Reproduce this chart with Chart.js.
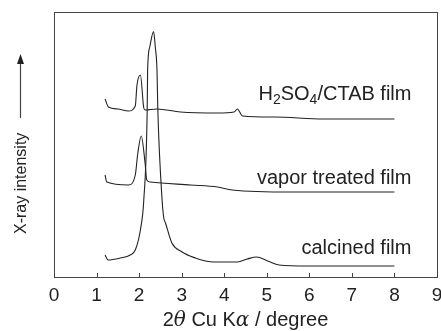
<!DOCTYPE html>
<html>
<head>
<meta charset="utf-8">
<script src="https://cdn.jsdelivr.net/npm/chart.js@4"></script>
<style>
html,body{margin:0;padding:0;background:#fff;}
#c{display:block;}
</style>
</head>
<body>
<canvas id="c" width="441" height="331"></canvas>
<script>
// 2theta values and intensities (arbitrary units)
const ctabX=[1.2,1.28,1.5,1.75,1.91,1.95,2.03,2.11,2.14,2.42,2.97,3.84,4.23,4.31,4.43,5.17,6.34,8.0];
const ctabY=[178,170,168,166,171,192,202,169,167,168,165,164,165,168,161,160,158,158];
const vaporX=[1.2,1.24,1.75,1.91,1.97,2.05,2.14,2.18,2.26,3.21,3.84,4.19,5.57,8.0];
const vaporY=[102,95,92,102,124,141,114,97,95,92,90,87,85,85];
const calcX=[1.2,1.27,1.56,1.79,1.91,2.03,2.11,2.19,2.2,2.25,2.34,2.38,2.42,2.44,2.54,2.58,2.62,2.77,3.01,3.32,3.56,3.76,4.31,4.54,4.76,5.02,5.29,5.96,8.0];
const calcY=[22,17,19,22,27,47,77,167,207,230,245.5,230,207,167,77,59,54,34,25,19,16,15,15,18,20,16,12,11,11];
const seriesNames=["H2SO4/CTAB film","vapor treated film","calcined film"];
const xTicks=[0,1,2,3,4,5,6,7,8,9];

const ink="#222";
const sans="'Liberation Sans', Arial, sans-serif";
const pts=(xs,ys)=>xs.map((x,i)=>({x:x,y:ys[i]}));
const ds=(name,xs,ys)=>({label:name,data:pts(xs,ys),borderColor:ink,borderWidth:1.1,pointRadius:0,fill:false,cubicInterpolationMode:"monotone"});

// draw a run of text pieces: [text, font, dy]
function runW(c,parts){let w=0;parts.forEach(p=>{c.font=p[1];w+=c.measureText(p[0]).width;});return w;}
function run(c,parts,x,y){parts.forEach(p=>{c.font=p[1];c.fillText(p[0],x,y+(p[2]||0));x+=c.measureText(p[0]).width;});}

// frame, inward ticks, labels
const deco={
id:"deco",
afterDraw(ch){
const c=ch.ctx,a=ch.chartArea,xs=ch.scales.x;
c.save();
c.strokeStyle="#444";c.lineWidth=1;
c.strokeRect(a.left+0.5,a.top+0.5,a.right-a.left,a.bottom-a.top);
c.beginPath();
xTicks.forEach(t=>{const p=Math.round(xs.getPixelForValue(t))+0.5;c.moveTo(p,a.bottom);c.lineTo(p,a.bottom-4);});
c.stroke();
c.fillStyle=ink;c.textAlign="left";c.textBaseline="alphabetic";
const fN="20px "+sans,fS="14px "+sans;
const rx=xs.getPixelForValue(8.4);
const p1=[["H",fN],["2",fS,4],["SO",fN],["4",fS,4],["/CTAB film",fN]];
run(c,p1,rx-runW(c,p1),100);
c.font=fN;c.textAlign="right";
c.fillText(seriesNames[1],rx,184);
c.fillText(seriesNames[2],rx,254);
// x title: 2θ Cu Kα / degree
c.textAlign="left";
const fI="italic 20px 'DejaVu Serif', serif";
const tp=[["2",fN],["θ",fI],[" Cu K",fN],["α",fI],[" / degree",fN]];
run(c,tp,(a.left+a.right)/2-runW(c,tp)/2,326);
// y title with arrow
c.translate(26,0);c.rotate(-Math.PI/2);
c.font="16px "+sans;
c.fillText("X-ray intensity",-234,0);
c.beginPath();c.moveTo(-118,-5.5);c.lineTo(-62,-5.5);c.lineWidth=1.2;c.stroke();
c.beginPath();c.moveTo(-54,-5.5);c.lineTo(-64,-9);c.lineTo(-64,-2);c.closePath();c.fill();
c.restore();
}
};

new Chart(document.getElementById("c"),{
type:"line",
data:{datasets:[ds(seriesNames[0],ctabX,ctabY),ds(seriesNames[1],vaporX,vaporY),ds(seriesNames[2],calcX,calcY)]},
options:{
responsive:false,animation:false,
layout:{padding:{left:54,top:12,right:4,bottom:0}},
plugins:{legend:{display:false},tooltip:{enabled:false}},
scales:{
x:{type:"linear",min:0,max:9,
grid:{display:false,drawTicks:false},border:{display:false},
ticks:{stepSize:1,padding:7,color:ink,font:{family:sans,size:19},maxRotation:0},
afterFit:s=>{s.height=54;s.paddingLeft=0;s.paddingRight=0;}},
y:{display:false,min:0,max:265}
}
},
plugins:[deco]
});
</script>
</body>
</html>
